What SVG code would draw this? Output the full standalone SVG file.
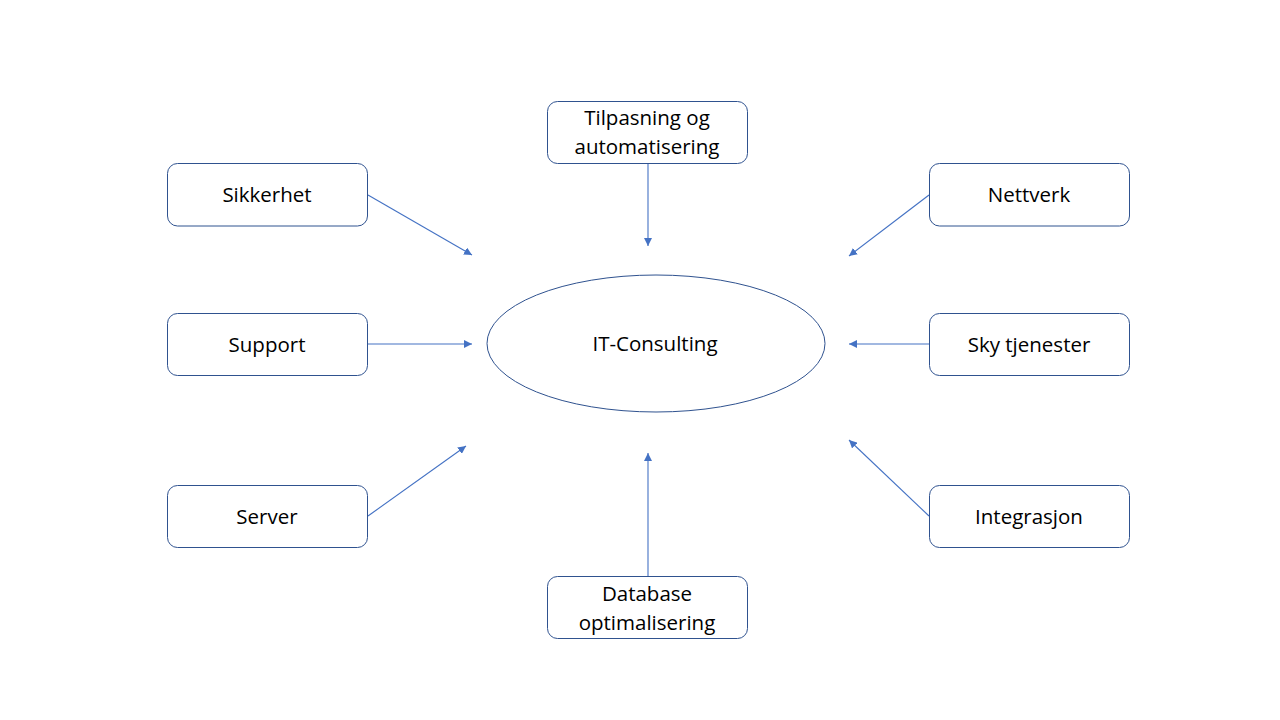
<svg xmlns="http://www.w3.org/2000/svg" width="1280" height="720" viewBox="0 0 1280 720">
<style>
.box{fill:#fff;stroke:#2F528F;stroke-width:1}
.t{font-family:"Open Sans","Noto Sans",sans-serif;font-size:20.5px;fill:#000;text-anchor:middle}
.c{stroke:#4472C4;stroke-width:1.1;fill:none;marker-end:url(#a)}
</style>
<defs>
<marker id="a" viewBox="0 0 10 10" refX="10" refY="5" markerWidth="8" markerHeight="8" markerUnits="userSpaceOnUse" orient="auto">
<path d="M0,0 L10,5 L0,10 Z" fill="#4472C4"/>
</marker>
</defs>
<rect width="1280" height="720" fill="#fff"/>
<g id="connectors">
<line class="c" x1="368" y1="195" x2="472" y2="255"/>
<line class="c" x1="648" y1="163" x2="648" y2="246"/>
<line class="c" x1="929" y1="195" x2="849" y2="256"/>
<line class="c" x1="368" y1="344" x2="472" y2="344"/>
<line class="c" x1="929" y1="344" x2="849" y2="344"/>
<line class="c" x1="368" y1="516" x2="466" y2="446"/>
<line class="c" x1="648" y1="576" x2="648" y2="453"/>
<line class="c" x1="929" y1="516" x2="849" y2="440"/>
</g>
<g id="center">
<ellipse cx="656" cy="343.5" rx="169" ry="68.5" fill="#fff" stroke="#2F528F"/>
<text class="t" x="655" y="351">IT-Consulting</text>
</g>
<g id="sikkerhet">
<rect class="box" x="167.5" y="163.5" width="200" height="62.5" rx="10"/>
<text class="t" x="267" y="202">Sikkerhet</text>
</g>
<g id="support">
<rect class="box" x="167.5" y="313.5" width="200" height="62" rx="10"/>
<text class="t" x="267" y="352">Support</text>
</g>
<g id="server">
<rect class="box" x="167.5" y="485.5" width="200" height="62" rx="10"/>
<text class="t" x="267" y="524">Server</text>
</g>
<g id="tilpasning">
<rect class="box" x="547.5" y="101.5" width="200" height="62" rx="10"/>
<text class="t" x="647" y="125">Tilpasning og</text>
<text class="t" x="647" y="154">automatisering</text>
</g>
<g id="database">
<rect class="box" x="547.5" y="576.5" width="200" height="62" rx="10"/>
<text class="t" x="647" y="601">Database</text>
<text class="t" x="647" y="630">optimalisering</text>
</g>
<g id="nettverk">
<rect class="box" x="929.5" y="163.5" width="200" height="62.5" rx="10"/>
<text class="t" x="1029" y="202">Nettverk</text>
</g>
<g id="sky">
<rect class="box" x="929.5" y="313.5" width="200" height="62" rx="10"/>
<text class="t" x="1029" y="352">Sky tjenester</text>
</g>
<g id="integrasjon">
<rect class="box" x="929.5" y="485.5" width="200" height="62" rx="10"/>
<text class="t" x="1029" y="524">Integrasjon</text>
</g>
</svg>
